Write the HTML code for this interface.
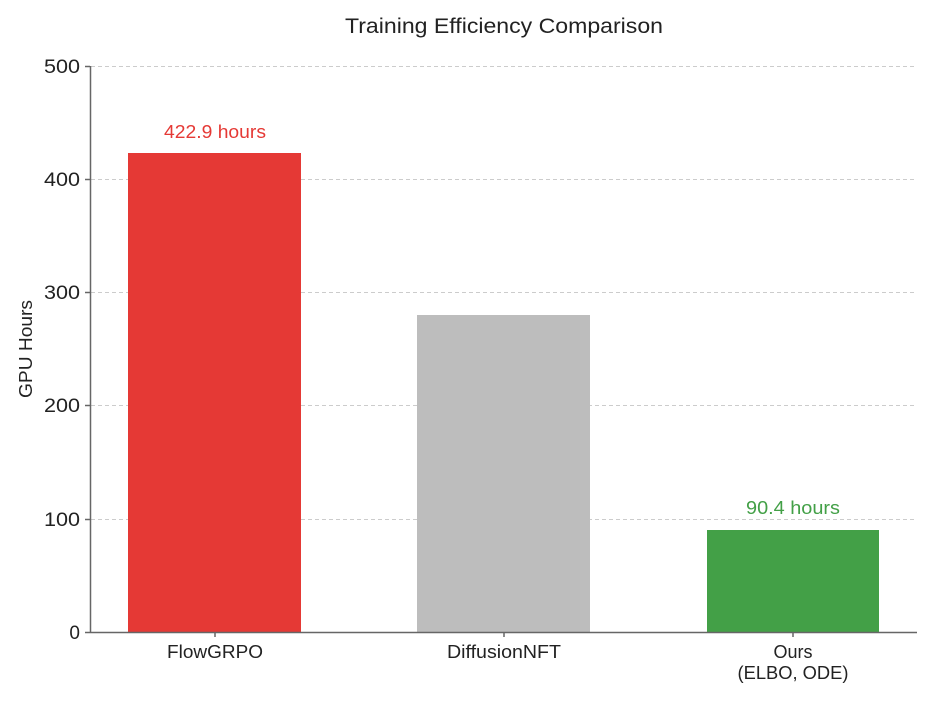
<!DOCTYPE html>
<html><head><style>body{margin:0;background:#fff}</style></head><body>
<svg width="935" height="701" xmlns="http://www.w3.org/2000/svg" font-family="Liberation Sans, sans-serif">
<rect width="935" height="701" fill="#fff"/>
<text x="504" y="33" font-size="21" text-anchor="middle" fill="#222" textLength="318" lengthAdjust="spacingAndGlyphs">Training Efficiency Comparison</text>
<g stroke="#ccc" stroke-dasharray="4,3" stroke-width="1">
<line x1="91" x2="917" y1="66.5" y2="66.5"/>
<line x1="91" x2="917" y1="179.5" y2="179.5"/>
<line x1="91" x2="917" y1="292.5" y2="292.5"/>
<line x1="91" x2="917" y1="405.5" y2="405.5"/>
<line x1="91" x2="917" y1="519.5" y2="519.5"/>
</g>
<rect x="128" y="153" width="173" height="479" fill="#e53935"/>
<rect x="417" y="315" width="173" height="317" fill="#bdbdbd"/>
<rect x="707" y="530" width="172" height="102" fill="#43a047"/>
<text x="215" y="138" font-size="18" text-anchor="middle" fill="#e53935" textLength="102" lengthAdjust="spacingAndGlyphs">422.9 hours</text>
<text x="793" y="514" font-size="18" text-anchor="middle" fill="#43a047" textLength="94" lengthAdjust="spacingAndGlyphs">90.4 hours</text>
<line x1="90.5" y1="66" x2="90.5" y2="632" stroke="#666" stroke-width="1.5"/>
<line x1="90" y1="632.5" x2="917" y2="632.5" stroke="#666" stroke-width="1.5"/>
<g stroke="#666" stroke-width="1.5">
<line x1="85" x2="90" y1="66.5" y2="66.5"/><line x1="85" x2="90" y1="179.5" y2="179.5"/>
<line x1="85" x2="90" y1="292.5" y2="292.5"/><line x1="85" x2="90" y1="405.5" y2="405.5"/>
<line x1="85" x2="90" y1="519.5" y2="519.5"/><line x1="85" x2="90" y1="632.5" y2="632.5"/>
<line x1="215" x2="215" y1="632" y2="637"/><line x1="504" x2="504" y1="632" y2="637"/><line x1="793" x2="793" y1="632" y2="637"/>
</g>
<g font-size="19" fill="#222" text-anchor="end">
<text x="80" y="73" textLength="36" lengthAdjust="spacingAndGlyphs">500</text><text x="80" y="186" textLength="36" lengthAdjust="spacingAndGlyphs">400</text><text x="80" y="299" textLength="36" lengthAdjust="spacingAndGlyphs">300</text>
<text x="80" y="412" textLength="36" lengthAdjust="spacingAndGlyphs">200</text><text x="80" y="526" textLength="36" lengthAdjust="spacingAndGlyphs">100</text><text x="80" y="639">0</text>
</g>
<g font-size="18" fill="#222" text-anchor="middle">
<text x="215" y="658" textLength="96" lengthAdjust="spacingAndGlyphs">FlowGRPO</text><text x="504" y="658" textLength="114" lengthAdjust="spacingAndGlyphs">DiffusionNFT</text>
<text x="793" y="658">Ours</text><text x="793" y="679" textLength="111" lengthAdjust="spacingAndGlyphs">(ELBO, ODE)</text>
</g>
<text transform="translate(32,349) rotate(-90)" font-size="18" fill="#222" text-anchor="middle" textLength="98" lengthAdjust="spacingAndGlyphs">GPU Hours</text>
</svg>
</body></html>
